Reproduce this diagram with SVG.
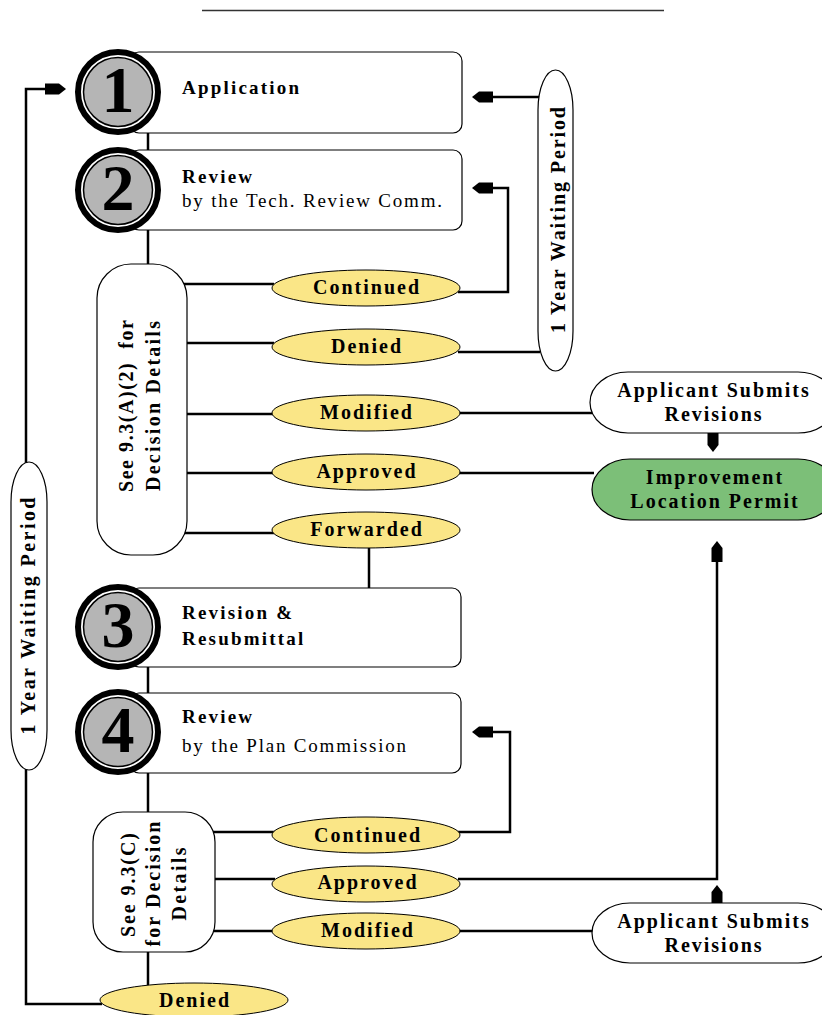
<svg xmlns="http://www.w3.org/2000/svg" xmlns:xlink="http://www.w3.org/1999/xlink" width="822" height="1015" viewBox="0 0 822 1015">
<style>
.ln{fill:none;stroke:#000;stroke-width:2.5}
.box{fill:#fff;stroke:#000;stroke-width:1.2}
.ov{fill:#fae687;stroke:#000;stroke-width:1}
.pill{fill:#fff;stroke:#000;stroke-width:1.2}
.grn{fill:#7cbf78;stroke:#000;stroke-width:1.2}
.ring{fill:#fff;stroke:#000;stroke-width:6}
.core{fill:#b5b5b5;stroke:#000;stroke-width:1.5}
.num{font-family:"Liberation Serif",serif;font-weight:bold;font-size:66px;fill:#000;text-anchor:middle}
.t{font-family:"Liberation Serif",serif;font-size:19px;fill:#000}
.b{font-weight:bold;letter-spacing:2.2px}
.r{letter-spacing:1.8px}
.lab{font-family:"Liberation Serif",serif;font-weight:bold;font-size:20px;letter-spacing:2px;fill:#000;text-anchor:middle}
.rot{font-family:"Liberation Serif",serif;font-weight:bold;font-size:20px;fill:#000;text-anchor:middle}
</style>
<defs>
<path id="ah" d="M0,0 L7,-5.5 L21,-5.5 L21,5.5 L7,5.5 Z" fill="#000"/>
</defs>
<line x1="202" y1="10.5" x2="664" y2="10.5" stroke="#333" stroke-width="1.5"/>
<g id="connectors">
<path class="ln" d="M148,133 V150"/>
<path class="ln" d="M148,230 V266"/>
<path class="ln" d="M178,284 H274"/>
<path class="ln" d="M185,343 H274"/>
<path class="ln" d="M185,414 H274"/>
<path class="ln" d="M185,473 H274"/>
<path class="ln" d="M178,533 H274"/>
<path class="ln" d="M458,292 H508 V188 H485"/>
<path class="ln" d="M458,352 H540"/>
<path class="ln" d="M540,97 H485"/>
<path class="ln" d="M458,413 H592"/>
<path class="ln" d="M458,473 H594"/>
<path class="ln" d="M369,546 V588"/>
<path class="ln" d="M148,667 V693"/>
<path class="ln" d="M148,773 V814"/>
<path class="ln" d="M205,832 H275"/>
<path class="ln" d="M210,879 H275"/>
<path class="ln" d="M205,931 H275"/>
<path class="ln" d="M458,832 H510 V732 H485"/>
<path class="ln" d="M458,879 H717 V555"/>
<path class="ln" d="M458,931 H594"/>
<path class="ln" d="M148,950 V985"/>
<path class="ln" d="M102,1004 H26 V89 H50"/>
<use xlink:href="#ah" href="#ah" transform="translate(472,97)"/>
<use xlink:href="#ah" href="#ah" transform="translate(472,188)"/>
<use xlink:href="#ah" href="#ah" transform="translate(472,732)"/>
<use xlink:href="#ah" href="#ah" transform="translate(66,89) rotate(180)"/>
<use xlink:href="#ah" href="#ah" transform="translate(713,452) rotate(-90)"/>
<use xlink:href="#ah" href="#ah" transform="translate(717,541) rotate(90)"/>
<use xlink:href="#ah" href="#ah" transform="translate(717,885) rotate(90)"/>
</g>
<g id="step1">
<rect class="box" x="130" y="52" width="332" height="81" rx="9"/>
<circle class="ring" cx="118" cy="92" r="40"/>
<circle class="core" cx="118" cy="92" r="34.5"/>
<text class="num" x="118" y="112">1</text>
<text class="t b" x="182" y="94">Application</text>
</g>
<g id="step2">
<rect class="box" x="130" y="150" width="332" height="80" rx="9"/>
<circle class="ring" cx="118" cy="190" r="40"/>
<circle class="core" cx="118" cy="190" r="34.5"/>
<text class="num" x="118" y="210">2</text>
<text class="t b" x="182" y="183">Review</text>
<text class="t r" x="182" y="207">by the Tech. Review Comm.</text>
</g>
<g id="decision1">
<rect class="pill" x="97" y="264" width="90" height="291" rx="34"/>
<text class="rot" xml:space="preserve" transform="translate(133,406) rotate(-90)" textLength="172" lengthAdjust="spacing">See 9.3(A)(2)  for</text>
<text class="rot" transform="translate(160,406) rotate(-90)" textLength="170" lengthAdjust="spacing">Decision Details</text>
</g>
<g id="continued1"><ellipse class="ov" cx="366" cy="288" rx="94" ry="18"/><text class="lab" x="367" y="294">Continued</text></g>
<g id="denied1"><ellipse class="ov" cx="366" cy="347" rx="94" ry="18"/><text class="lab" x="367" y="353">Denied</text></g>
<g id="modified1"><ellipse class="ov" cx="366" cy="413" rx="94" ry="18"/><text class="lab" x="367" y="419">Modified</text></g>
<g id="approved1"><ellipse class="ov" cx="366" cy="472" rx="94" ry="18"/><text class="lab" x="367" y="478">Approved</text></g>
<g id="forwarded"><ellipse class="ov" cx="366" cy="530" rx="94" ry="18"/><text class="lab" x="367" y="536">Forwarded</text></g>
<g id="wait1">
<rect class="pill" x="538" y="70" width="35" height="301" rx="17.5" ry="40"/>
<text class="rot" transform="translate(565,220) rotate(-90)" textLength="226" lengthAdjust="spacing">1 Year Waiting Period</text>
</g>
<g id="applicant1">
<rect class="pill" x="590" y="372" width="246" height="61" rx="38" ry="30.5"/>
<text class="lab" x="714" y="397">Applicant Submits</text>
<text class="lab" x="714" y="421">Revisions</text>
</g>
<g id="permit">
<rect class="grn" x="592" y="459" width="244" height="61" rx="38" ry="30.5"/>
<text class="lab" x="715" y="484">Improvement</text>
<text class="lab" x="715" y="508">Location Permit</text>
</g>
<g id="step3">
<rect class="box" x="130" y="588" width="331" height="79" rx="9"/>
<circle class="ring" cx="118" cy="627" r="40"/>
<circle class="core" cx="118" cy="627" r="34.5"/>
<text class="num" x="118" y="647">3</text>
<text class="t b" x="182" y="619">Revision &amp;</text>
<text class="t b" x="182" y="645">Resubmittal</text>
</g>
<g id="step4">
<rect class="box" x="130" y="693" width="331" height="80" rx="9"/>
<circle class="ring" cx="118" cy="732" r="40"/>
<circle class="core" cx="118" cy="732" r="34.5"/>
<text class="num" x="118" y="752">4</text>
<text class="t b" x="182" y="723">Review</text>
<text class="t r" x="182" y="752">by the Plan Commission</text>
</g>
<g id="decision2">
<rect class="pill" x="93" y="812" width="122" height="140" rx="30"/>
<text class="rot" transform="translate(135,885) rotate(-90)" textLength="104" lengthAdjust="spacing">See 9.3(C)</text>
<text class="rot" transform="translate(160,884) rotate(-90)" textLength="125" lengthAdjust="spacing">for Decision</text>
<text class="rot" transform="translate(186,884) rotate(-90)" textLength="73" lengthAdjust="spacing">Details</text>
</g>
<g id="continued2"><ellipse class="ov" cx="366" cy="835" rx="94" ry="18"/><text class="lab" x="368" y="842">Continued</text></g>
<g id="approved2"><ellipse class="ov" cx="366" cy="884" rx="94" ry="18"/><text class="lab" x="368" y="889">Approved</text></g>
<g id="modified2"><ellipse class="ov" cx="366" cy="931" rx="94" ry="18"/><text class="lab" x="368" y="937">Modified</text></g>
<g id="applicant2">
<rect class="pill" x="592" y="903" width="244" height="60" rx="38" ry="30"/>
<text class="lab" x="714" y="928">Applicant Submits</text>
<text class="lab" x="714" y="952">Revisions</text>
</g>
<g id="denied2"><ellipse class="ov" cx="194" cy="1000" rx="94" ry="17"/><text class="lab" x="195" y="1007">Denied</text></g>
<g id="wait2">
<rect class="pill" x="11" y="462" width="36" height="308" rx="18" ry="40"/>
<text class="rot" transform="translate(35,616) rotate(-90)" textLength="237" lengthAdjust="spacing">1 Year Waiting Period</text>
</g>
</svg>
